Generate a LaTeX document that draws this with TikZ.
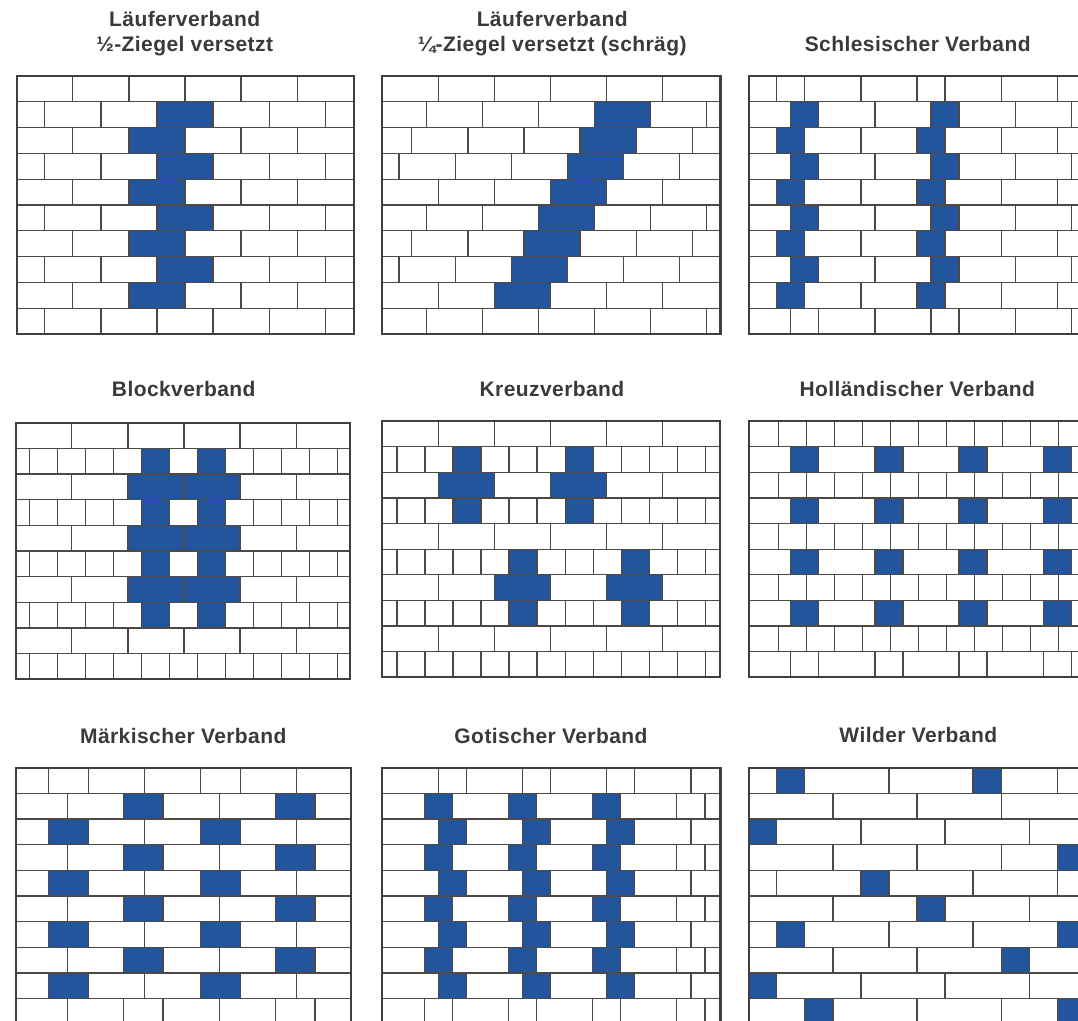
\documentclass[tikz,border=0pt]{standalone}
\usepackage{xcolor}
\usepackage{fontspec}
\setmainfont[LetterSpace=2]{Liberation Sans}
\definecolor{ink}{HTML}{3a3a3a}
\definecolor{mortar}{HTML}{4f4945}
\definecolor{frameink}{HTML}{403f3e}
\definecolor{stoneblue}{HTML}{23559d}
\newcommand{\course}[3]{\foreach \j in {#3} {\draw[joint] (#2+\j,#1) -- (#2+\j,#1+1);}}
\newcommand{\stone}[3]{\draw[headstone] (#2,#1) rectangle (#3,#1+1);}
\newcommand{\wallframe}[1]{\foreach \r in {1,...,9} {\draw[joint] (0,\r) -- (#1,\r);}
  \draw[wallline] (0,0) rectangle (#1,10);}

\begin{document}
\begin{tikzpicture}[x=1pt,y=-1pt,
  title/.style={font=\fontsize{21}{25.7}\bfseries\selectfont,text=ink,inner sep=0pt,align=center,anchor=base},
  joint/.style={draw=mortar,line width=1.3pt},
  headstone/.style={draw=mortar,line width=1.3pt,fill=stoneblue},
  wallline/.style={draw=frameink,line width=2.2pt}]
  \useasboundingbox (0,0) rectangle (1078,1020);
  \clip (0,0) rectangle (1078,1020);
  \fill[white] (0,0) rectangle (1078,1020);

  \node[title] (t1) at (184.7,51.7) {Läuferverband\\½-Ziegel versetzt};
  \node[title] (t2) at (552.2,51.7) {Läuferverband\\¼-Ziegel versetzt (schräg)};
  \node[title] (t3) at (917.7,51.7) {Schlesischer Verband};
  \node[title] (t4) at (183.7,396.7) {Blockverband};
  \node[title] (t5) at (552,396.7) {Kreuzverband};
  \node[title] (t6) at (917.3,396.7) {Holländischer Verband};
  \node[title] (t7) at (183.3,743.3) {Märkischer Verband};
  \node[title] (t8) at (551,743.3) {Gotischer Verband};
  \node[title] (t9) at (918.3,742.3) {Wilder Verband};

  % half brick bond
  \begin{scope}[shift={(16.7,76)},x=28.05pt,y=-25.8pt]
    \foreach \r in {0,2,4,6,8} {\course{\r}{0}{2,4,6,8,10}}
    \foreach \r in {1,3,5,7,9} {\course{\r}{1}{0,2,4,6,8,10}}
    \foreach \r in {1,3,5,7} {\stone{\r}{5}{7}}
    \foreach \r in {2,4,6,8} {\stone{\r}{4}{6}}
    \wallframe{12.02}
  \end{scope}

  % quarter brick bond
  \begin{scope}[shift={(382.3,76)},x=28.05pt,y=-25.8pt]
    \foreach \r/\o in {0/2,4/2,8/2} {\course{\r}{\o}{0,2,4,6,8}}
    \foreach \r/\o in {1/1.57,2/1.05,3/.6,5/1.57,6/1.05,7/.6,9/1.57} {\course{\r}{\o}{0,2,4,6,8,10}}
    \foreach \r/\a in {1/7.57,2/7.05,3/6.6,4/6,5/5.57,6/5.05,7/4.6,8/4} {\stone{\r}{\a}{\a+2}}
    \wallframe{12.06}
  \end{scope}

  % silesian
  \begin{scope}[shift={(748.7,76)},x=28.05pt,y=-25.8pt]
    \foreach \r in {0,2,4,6,8} {\course{\r}{0}{1,2,4,6,7,9,11}}
    \foreach \r in {1,3,5,7,9} {\course{\r}{0}{1.5,2.5,4.5,6.5,7.5,9.5,11.5}}
    \foreach \r in {1,3,5,7} {\stone{\r}{1.5}{2.5} \stone{\r}{6.5}{7.5}}
    \foreach \r in {2,4,6,8} {\stone{\r}{1}{2} \stone{\r}{6}{7}}
    \wallframe{12.06}
  \end{scope}

  % block
  \begin{scope}[shift={(15.7,422.7)},x=28.05pt,y=-25.66pt]
    \foreach \r in {0,2,4,6,8} {\course{\r}{0}{2,4,6,8,10}}
    \foreach \r in {1,3,5,7,9} {\course{\r}{.48}{0,1,2,3,4,5,6,7,8,9,10,11}}
    \foreach \r in {1,3,5,7} {\stone{\r}{4.48}{5.48} \stone{\r}{6.48}{7.48}}
    \foreach \r in {2,4,6} {\stone{\r}{4}{6} \stone{\r}{6}{8}}
    \wallframe{11.92}
  \end{scope}

  % cross
  \begin{scope}[shift={(382.3,421)},x=28.05pt,y=-25.63pt]
    \foreach \r in {0,2,4,6,8} {\course{\r}{0}{2,4,6,8,10}}
    \foreach \r in {1,3,5,7,9} {\course{\r}{.52}{0,1,2,3,4,5,6,7,8,9,10,11}}
    \foreach \r in {1,3} {\stone{\r}{2.52}{3.52} \stone{\r}{6.52}{7.52}}
    \foreach \r in {5,7} {\stone{\r}{4.52}{5.52} \stone{\r}{8.52}{9.52}}
    \stone{2}{2}{4} \stone{2}{6}{8}
    \stone{6}{4}{6} \stone{6}{8}{10}
    \wallframe{12.04}
  \end{scope}

  % dutch
  \begin{scope}[shift={(748.7,421)},x=28.05pt,y=-25.63pt]
    \foreach \r in {0,2,4,6,8} {\course{\r}{1.05}{0,1,2,3,4,5,6,7,8,9,10}}
    \foreach \r in {1,3,5,7,9} {\course{\r}{0}{1.5,2.5,4.5,5.5,7.5,8.5,10.5,11.5}}
    \foreach \r in {1,3,5,7} {\foreach \a in {1.5,4.5,7.5,10.5} {\stone{\r}{\a}{\a+1}}}
    \wallframe{12.06}
  \end{scope}

  % maerkisch
  \begin{scope}[shift={(16,767.7)},x=28.05pt,y=-25.65pt]
    \foreach \r in {0,2,4,6,8} {\course{\r}{0}{1.15,2.58,4.58,6.58,8,10}}
    \foreach \r in {1,3,5,7,9} {\course{\r}{0}{1.83,3.83,5.24,7.25,9.25,10.66}}
    \foreach \r in {1,3,5,7} {\stone{\r}{3.83}{5.24} \stone{\r}{9.25}{10.66}}
    \foreach \r in {2,4,6,8} {\stone{\r}{1.15}{2.58} \stone{\r}{6.58}{8}}
    \wallframe{11.95}
  \end{scope}

  % gothic
  \begin{scope}[shift={(382.3,767.7)},x=28.05pt,y=-25.65pt]
    \foreach \r in {0,2,4,6,8} {\course{\r}{0}{2,3,5,6,8,9,11}}
    \foreach \r in {1,3,5,7,9} {\course{\r}{0}{1.5,2.5,4.5,5.5,7.5,8.5,10.5,11.5}}
    \foreach \r in {1,3,5,7} {\foreach \a in {1.5,4.5,7.5} {\stone{\r}{\a}{\a+1}}}
    \foreach \r in {2,4,6,8} {\foreach \a in {2,5,8} {\stone{\r}{\a}{\a+1}}}
    \wallframe{12.06}
  \end{scope}

  % wild
  \begin{scope}[shift={(748.7,767.7)},x=28.05pt,y=-25.65pt]
    \course{0}{0}{1,2,5,8,9,11}
    \course{1}{0}{3,6,9}
    \course{2}{0}{1,4,7,10}
    \course{3}{0}{3,6,9,11}
    \course{4}{0}{1,4,5,8,11}
    \course{5}{0}{3,6,7,10}
    \course{6}{0}{1,2,5,8,11}
    \course{7}{0}{3,6,9,10}
    \course{8}{0}{1,4,7,10}
    \course{9}{0}{2,3,6,9,11}
    \foreach \r/\a in {0/1,0/8,2/0,3/11,4/4,5/6,6/1,6/11,7/9,8/0,9/2,9/11} {\stone{\r}{\a}{\a+1}}
    \wallframe{12.06}
  \end{scope}
\end{tikzpicture}
\end{document}
